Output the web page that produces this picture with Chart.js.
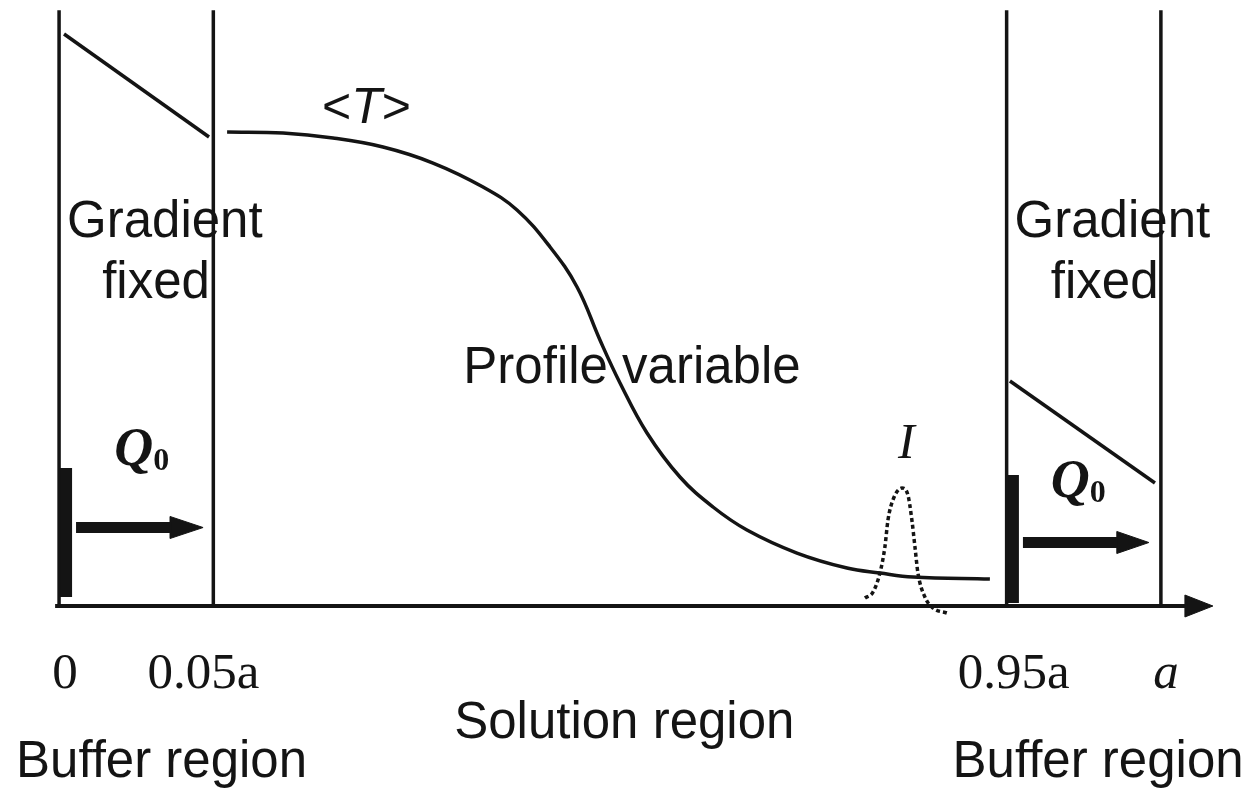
<!DOCTYPE html>
<html>
<head>
<meta charset="utf-8">
<title>Buffer and solution regions</title>
<script src="https://cdn.jsdelivr.net/npm/chart.js@4.4.1/dist/chart.umd.min.js"></script>
<style>
  html, body { margin: 0; padding: 0; background: #ffffff; }
  #wrap { width: 1251px; height: 790px; position: relative; }
</style>
</head>
<body>
<div id="wrap"><canvas id="c"></canvas></div>
<script>
// Radial coordinate in diagram units (the outer radius a sits at 100)
const boundaries = [0, 14, 86, 100];
const tickLabels = ['0', '0.05a', '0.95a', 'a'];
const wallTop = 99.3;

// Mean temperature profile <T> over the solution region
const profileX = [15.25, 20.33, 24.86, 29.40, 33.94, 38.48, 41.56, 44.56, 47.01, 49.09, 50.91, 53.36, 56.35, 59.35, 62.43, 66.97, 71.51, 74.50, 77.50, 84.48];
const profileY = [79.0, 78.83, 78.0, 76.5, 73.83, 69.83, 66.0, 59.83, 53.17, 44.33, 37.17, 28.83, 21.5, 16.5, 12.67, 8.83, 6.33, 5.5, 4.83, 4.5];

// Localized source term I near the outer edge
const sourceX = [73.14, 73.87, 74.50, 74.95, 75.23, 75.68, 76.50, 77.04, 77.40, 77.68, 77.95, 78.58, 79.31, 80.58];
const sourceY = [1.33, 2.33, 5.5, 9.83, 14.33, 17.67, 19.67, 18.5, 14.33, 9.83, 5.5, 1.5, -0.33, -1.17];

// Fixed gradients imposed in the two buffer regions
const gradInnerX = [0.45, 13.61];
const gradInnerY = [95.33, 78.17];
const gradOuterX = [86.3, 99.46];
const gradOuterY = [37.5, 20.5];

// Heat sources (thick plates) and the flux Q0 they drive
const plateInnerX = [0.59, 0.59];
const plateInnerY = [23.0, 1.5];
const plateOuterX = [86.57, 86.57];
const plateOuterY = [21.83, 0.5];
const fluxInnerX = [1.54, 10.2];
const fluxInnerY = [13.08, 13.08];
const fluxInnerHeadX = [10.07, 13.07, 10.07];
const fluxInnerHeadY = [14.92, 13.08, 11.25];
const fluxOuterX = [87.48, 96.1];
const fluxOuterY = [10.58, 10.58];
const fluxOuterHeadX = [96.0, 98.91, 96.0];
const fluxOuterHeadY = [12.42, 10.58, 8.75];

// Radial axis with its arrow
const axisX = [-0.36, 102.4];
const axisY = [0, 0];
const axisHeadX = [102.18, 104.72, 102.18];
const axisHeadY = [1.83, 0, -1.83];

const INK = '#141414';
const SANS = '"Liberation Sans", Arial, sans-serif';
const SERIF = '"Liberation Serif", "Times New Roman", serif';

function pts(xs, ys) { return xs.map((v, i) => ({ x: v, y: ys[i] })); }
function closed(xs, ys) { const p = pts(xs, ys); p.push(p[0]); return p; }

function line(data, width, extra) {
  return Object.assign({
    data: data, borderColor: INK, backgroundColor: INK, borderWidth: width,
    pointRadius: 0, showLine: true, fill: false, tension: 0, borderCapStyle: 'butt'
  }, extra || {});
}

const datasets = [];
boundaries.forEach(b => datasets.push(line(pts([b, b], [wallTop, 0]), 3.5)));
datasets.push(line(pts(axisX, axisY), 4));
datasets.push(line(closed(axisHeadX, axisHeadY), 1, { fill: 'shape' }));
datasets.push(line(pts(gradInnerX, gradInnerY), 3.5));
datasets.push(line(pts(gradOuterX, gradOuterY), 3.5));
datasets.push(line(pts(profileX, profileY), 3.5, { tension: 0.4 }));
datasets.push(line(pts(sourceX, sourceY), 3.5, { cubicInterpolationMode: 'monotone', borderDash: [4, 3] }));
datasets.push(line(pts(plateInnerX, plateInnerY), 13));
datasets.push(line(pts(plateOuterX, plateOuterY), 12));
datasets.push(line(pts(fluxInnerX, fluxInnerY), 11));
datasets.push(line(closed(fluxInnerHeadX, fluxInnerHeadY), 1, { fill: 'shape' }));
datasets.push(line(pts(fluxOuterX, fluxOuterY), 11));
datasets.push(line(closed(fluxOuterHeadX, fluxOuterHeadY), 1, { fill: 'shape' }));

// Plain text labels placed in data coordinates
const labels = [
  { text: 'Gradient', x: 9.6, y: 61.5, font: '51px ' + SANS },
  { text: 'fixed', x: 8.8, y: 51.3, font: '51px ' + SANS },
  { text: 'Gradient', x: 95.6, y: 61.5, font: '51px ' + SANS },
  { text: 'fixed', x: 94.9, y: 51.3, font: '51px ' + SANS },
  { text: 'Profile variable', x: 52.0, y: 37.2, font: '51px ' + SANS },
  { text: 'Solution region', x: 51.3, y: -22.0, font: '51px ' + SANS },
  { text: 'Buffer region', x: 9.3, y: -28.5, font: '51px ' + SANS },
  { text: 'Buffer region', x: 94.3, y: -28.5, font: '51px ' + SANS },
  { text: 'I', x: 76.9, y: 24.7, font: 'italic 50px ' + SERIF }
];

// Labels mixing styles (italic symbol, subscript)
const runs = [
  { x: 23.87, y: 80.5, parts: [
    { text: '<', font: '50px ' + SANS },
    { text: 'T', font: 'italic 50px ' + SANS },
    { text: '>', font: '50px ' + SANS } ] },
  { x: 5.0, y: 23.5, parts: [
    { text: 'Q', font: 'italic bold 54px ' + SERIF },
    { text: '0', font: 'bold 32px ' + SERIF, dy: 5 } ] },
  { x: 90.0, y: 18.2, parts: [
    { text: 'Q', font: 'italic bold 54px ' + SERIF },
    { text: '0', font: 'bold 32px ' + SERIF, dy: 5 } ] }
];
const tickY = -13.67;
// Small horizontal nudges (px) for the tick captions
const tickNudge = [6, -10, 7, 5];

const textPlugin = {
  id: 'diagramText',
  afterDatasetsDraw(chart) {
    const { ctx, scales: { x, y } } = chart;
    ctx.save();
    ctx.fillStyle = INK;
    ctx.textBaseline = 'alphabetic';
    ctx.textAlign = 'center';
    labels.forEach(t => {
      ctx.font = t.font;
      ctx.fillText(t.text, x.getPixelForValue(t.x), y.getPixelForValue(t.y));
    });
    boundaries.forEach((b, i) => {
      ctx.font = (tickLabels[i] === 'a' ? 'italic ' : '') + '51px ' + SERIF;
      ctx.fillText(tickLabels[i], x.getPixelForValue(b) + tickNudge[i], y.getPixelForValue(tickY));
    });
    ctx.textAlign = 'left';
    runs.forEach(r => {
      let px = x.getPixelForValue(r.x);
      const py = y.getPixelForValue(r.y);
      r.parts.forEach(p => {
        ctx.font = p.font;
        ctx.fillText(p.text, px, py + (p.dy || 0));
        px += ctx.measureText(p.text).width;
      });
    });
    ctx.restore();
  }
};

new Chart(document.getElementById('c'), {
  type: 'scatter',
  data: { datasets: datasets },
  options: {
    responsive: true,
    maintainAspectRatio: false,
    animation: false,
    layout: { padding: { left: 15, right: 24, top: 6, bottom: 4 } },
    plugins: { legend: { display: false }, tooltip: { enabled: false } },
    scales: {
      x: { type: 'linear', min: -4, max: 106, display: false },
      y: { type: 'linear', min: -30, max: 100, display: false }
    }
  },
  plugins: [textPlugin]
});
</script>
</body>
</html>
